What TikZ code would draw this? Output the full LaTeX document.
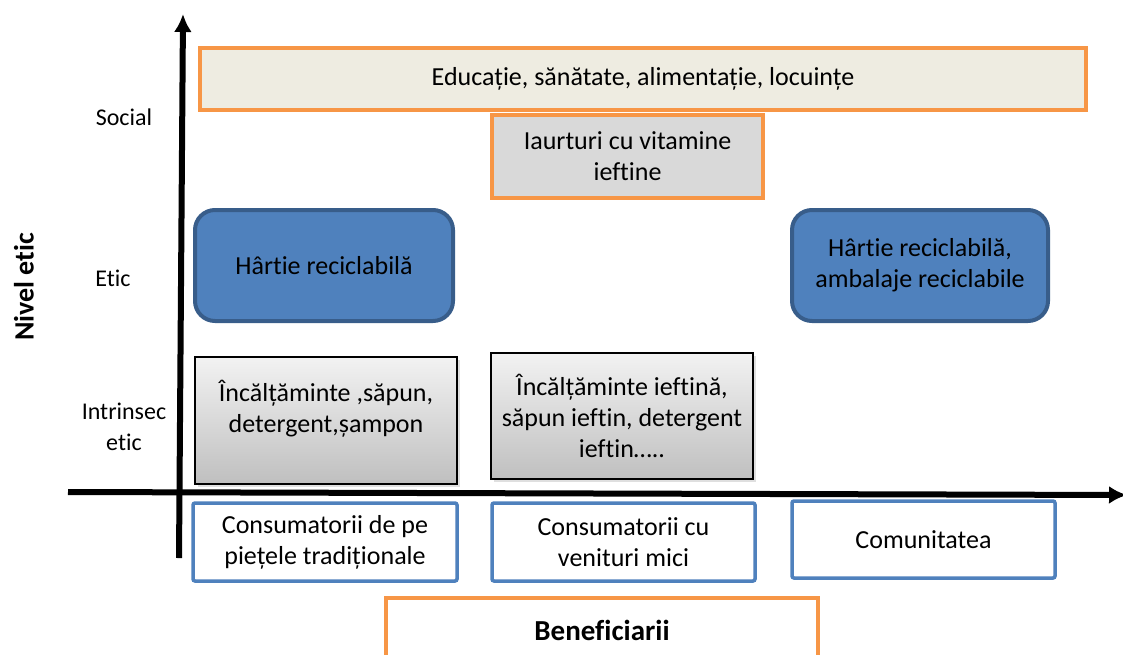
\documentclass[tikz,border=0pt]{standalone}
\usepackage{fontspec}
\setmainfont{Carlito}[Ligatures=NoCommon]
\usetikzlibrary{arrows.meta,shadows}
\definecolor{portocaliu}{RGB}{247,150,70}
\definecolor{albastru}{RGB}{79,129,189}
\definecolor{albastruinchis}{RGB}{56,93,138}
\definecolor{crem}{RGB}{238,236,225}
\definecolor{gri}{RGB}{217,217,217}
\begin{document}
\begin{tikzpicture}[
	x=1pt, y=-1pt,
	every node/.style={font=\fontsize{24}{31}\selectfont, align=center},
	boxtext/.style={font=\fontsize{26}{31}\selectfont},
	axis/.style={>={Latex[length=18pt,width=18pt]}, draw=black, line width=6pt, ->},
	orangebox/.style={boxtext, draw=portocaliu, line width=4pt, rectangle, inner sep=0pt},
	bluebox/.style={boxtext, draw=albastruinchis, fill=albastru, line width=4pt,
	rounded corners=20pt, inner sep=0pt},
	greybox/.style={boxtext, draw=black, line width=1.5pt, top color=gray!10, bottom color=gray!50,
	drop shadow={shadow xshift=3pt, shadow yshift=-3pt, opacity=0.25}, inner sep=0pt},
	grupbox/.style={boxtext, draw=albastru, fill=white, line width=3.5pt, rounded corners=2pt, inner sep=0pt},
	]
	\useasboundingbox (0,0) rectangle (1123,654);
	% axe
	\coordinate (ystart) at (179,558);
	\coordinate (yend) at (183,14);
	\coordinate (xstart) at (68,492);
	\coordinate (xend) at (1127,495);
	\draw[axis] (ystart) -- (yend);
	\draw[axis] (xstart) -- (xend);
	% niveluri
	\node (social) at (124,117) {Social};
	\node (etic) at (113,278) {Etic};
	\node (intrinsec) at (124,427) {Intrinsec\\etic};
	\node[rotate=90, font=\fontsize{28}{34}\selectfont\bfseries] (nivel) at (24,287) {Nivel etic};
	% nivel social
	\node[orangebox, fill=crem, minimum width=886, minimum height=62] (edu) at (643,79)
	{Educație, sănătate, alimentație, locuințe};
	\node[orangebox, fill=gri, minimum width=271, minimum height=83] (iaurt) at (627.5,156.5)
	{Iaurturi cu vitamine\\ieftine};
	% nivel etic
	\node[bluebox, minimum width=258, minimum height=111] (hartie1) at (324,265.5)
	{Hârtie reciclabilă};
	\node[bluebox, minimum width=256, minimum height=111] (hartie2) at (920,265.5)
	{Hârtie reciclabilă,\\ambalaje reciclabile};
	% nivel intrinsec
	\node[greybox, minimum width=262, minimum height=127] (inc1) at (326,420.5) {};
	\node[boxtext] (inc1text) at ([yshift=12pt]inc1.center) {Încălțăminte ,săpun,\\detergent,șampon};
	\node[greybox, minimum width=262, minimum height=126] (inc2) at (622,416)
	{Încălțăminte ieftină,\\săpun ieftin, detergent\\ieftin…..};
	% beneficiari
	\node[grupbox, minimum width=264, minimum height=78] (cons1) at (325,542)
	{Consumatorii de pe\\piețele tradiționale};
	\node[grupbox, minimum width=263, minimum height=78] (cons2) at (623.5,542)
	{Consumatorii cu\\venituri mici};
	\node[grupbox, minimum width=263, minimum height=77] (comun) at (923.5,539.5)
	{Comunitatea};
	\node[orangebox, fill=white, minimum width=432, minimum height=64,
	font=\fontsize{29}{34}\selectfont\bfseries] (benef) at (602,630) {Beneficiarii};
\end{tikzpicture}
\end{document}
